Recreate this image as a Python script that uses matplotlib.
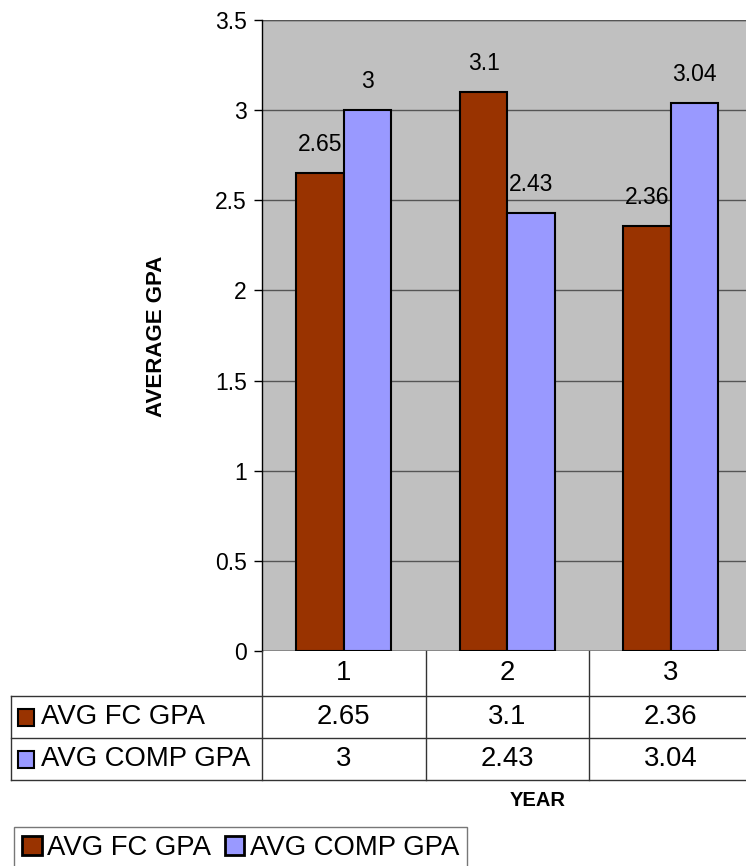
import matplotlib
matplotlib.use("Agg")
import matplotlib.pyplot as plt
from matplotlib.patches import Rectangle
from matplotlib.lines import Line2D
import matplotlib.transforms as mtransforms
import numpy as np

plt.rcParams['font.family'] = ['Liberation Sans', 'DejaVu Sans']

years = ['1', '2', '3']
fc_gpa = [2.65, 3.1, 2.36]
comp_gpa = [3.0, 2.43, 3.04]
series_names = ['AVG FC GPA', 'AVG COMP GPA']
series_colors = ['#993300', '#9999FF']
y_ticks = [0, 0.5, 1, 1.5, 2, 2.5, 3, 3.5]

W, H = 746, 866
fig = plt.figure(figsize=(W / 100, H / 100), dpi=100)


def fx(px):
    return px / W


def fy(py):
    return 1 - py / H


# plot area: left edge at 262 px, value 3.5 at 20 px, value 0 at 651 px
ax = fig.add_axes([fx(262), fy(651), fx(752.5) - fx(262), fy(20) - fy(651)])
ax.set_facecolor('#C0C0C0')

x = np.arange(1, len(years) + 1)
bw = 0.29
bars_fc = ax.bar(x - bw / 2, fc_gpa, bw, color=series_colors[0],
                 edgecolor='black', linewidth=1.5, zorder=3, label=series_names[0])
bars_comp = ax.bar(x + bw / 2, comp_gpa, bw, color=series_colors[1],
                   edgecolor='black', linewidth=1.5, zorder=3, label=series_names[1])

for bars, vals in ((bars_fc, fc_gpa), (bars_comp, comp_gpa)):
    for b, v in zip(bars, vals):
        ax.annotate(f'{v:g}', (b.get_x() + b.get_width() / 2, v),
                    xytext=(0, 17), textcoords='offset pixels',
                    ha='center', va='bottom', fontsize=16.5, color='black', zorder=4)

ax.set_xlim(0.5, 3.5)
ax.set_ylim(0, 3.5)
ax.set_yticks(y_ticks)
ax.set_yticklabels([f'{t:g}' for t in y_ticks])
ax.set_xticks([])
ax.yaxis.grid(True, color='#555555', linewidth=1, zorder=0)
ax.set_axisbelow(True)
ax.tick_params(axis='y', direction='out', length=6, width=1, pad=5,
               labelsize=16.5, colors='black')
for s in ('top', 'right', 'bottom'):
    ax.spines[s].set_visible(False)
ax.spines['left'].set_color('black')
ax.spines['left'].set_linewidth(1)
ax.axhline(3.5, color='#555555', linewidth=1, zorder=1)
ax.axhline(0, color='black', linewidth=1, zorder=4)

fig.text(fx(157), fy(336), 'AVERAGE GPA', rotation=90, ha='center', va='center',
         fontsize=16, fontweight='bold')

# data table below the axis
tcol = '#333333'
table_font = 19.8
row_tops = [651, 696, 738, 780]
for yy in row_tops[1:]:
    fig.add_artist(Line2D([fx(10.7), 1.02], [fy(yy), fy(yy)], color=tcol,
                          linewidth=1, transform=fig.transFigure))
fig.add_artist(Line2D([fx(10.7), fx(10.7)], [fy(696), fy(780)], color=tcol,
                      linewidth=1, transform=fig.transFigure))
trans = mtransforms.blended_transform_factory(ax.transData, fig.transFigure)
for xb in [0.5, 1.5, 2.5, 3.5]:
    fig.add_artist(Line2D([xb, xb], [fy(651), fy(780)], color=tcol,
                          linewidth=1, transform=trans))

for xi, lab in zip(x, years):
    fig.text(xi, fy(673.5), lab, transform=trans, ha='center', va='center',
             fontsize=table_font)
for row, (name, vals, col) in enumerate(zip(series_names, (fc_gpa, comp_gpa), series_colors)):
    yc = (row_tops[row + 1] + row_tops[row + 2]) / 2
    fig.add_artist(Rectangle((fx(17.5), fy(yc + 8.5)), fx(34) - fx(17.5), fy(yc - 8.5) - fy(yc + 8.5),
                             facecolor=col, edgecolor='black', linewidth=1.5,
                             transform=fig.transFigure))
    fig.text(fx(41), fy(yc), name, ha='left', va='center', fontsize=table_font)
    for xi, v in zip(x, vals):
        fig.text(xi, fy(yc), f'{v:g}', transform=trans, ha='center', va='center',
                 fontsize=table_font)

fig.text(fx(538), fy(800), 'YEAR', ha='center', va='center', fontsize=14.5,
         fontweight='bold')

leg = fig.legend(handles=[bars_fc, bars_comp], labels=series_names,
                 loc='upper left', bbox_to_anchor=(fx(14), fy(826.5)),
                 ncol=2, fontsize=table_font, frameon=True, fancybox=False,
                 edgecolor='#555555', handlelength=0.7, handleheight=0.7,
                 handletextpad=0.2, columnspacing=0.5, borderpad=0.3,
                 borderaxespad=0)
leg.get_frame().set_linewidth(1)
for h in leg.legend_handles:
    h.set_linewidth(2)

fig.savefig('out.png', dpi=100)
